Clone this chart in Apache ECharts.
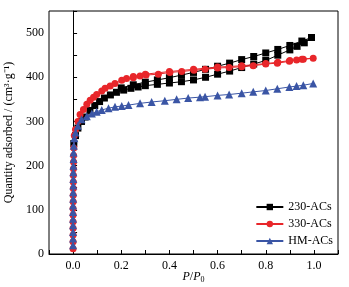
<!DOCTYPE html>
<html>
<head>
<meta charset="utf-8">
<script src="https://cdn.jsdelivr.net/npm/echarts@6/dist/echarts.min.js"></script>
<style>
  html, body { margin: 0; padding: 0; background: #fff; }
  #chart { width: 349px; height: 287px; }
</style>
</head>
<body>
<div id="chart"></div>
<script>
// relative pressure P/P0 and quantity adsorbed (cm3/g), adsorption then desorption branch
const lowP = [0, 0, 0, 0, 0, 0, 0, 0.0005, 0.0005, 0.001, 0.001, 0.001, 0.0015, 0.002, 0.002, 0.003];
const lowBlue = [20, 35, 50, 65, 80, 95, 110, 125, 140, 155, 170, 185, 200, 215, 230, 245];
const lowRed = [12, 28, 43, 58, 73, 88, 103, 118, 133, 148, 163, 178, 193, 208, 223, 240];

const p230Ads = [0.003, 0.01, 0.02, 0.035, 0.05, 0.07, 0.09, 0.11, 0.13, 0.155, 0.18, 0.21, 0.24, 0.27, 0.3, 0.35, 0.4, 0.45, 0.5, 0.55, 0.6, 0.65, 0.7, 0.75, 0.8, 0.85, 0.9, 0.93, 0.96, 0.99];
const q230Ads = [250, 268, 285, 300, 310, 325, 336, 345, 353, 360, 366, 371, 375, 378, 381, 384, 387, 390, 394, 400, 407, 414, 422, 430, 438, 450, 462, 470, 478, 490];
const p230Des = [0.95, 0.9, 0.85, 0.8, 0.75, 0.7, 0.65, 0.6, 0.55, 0.5, 0.45, 0.4, 0.35, 0.3, 0.25, 0.2];
const q230Des = [482, 472, 463, 455, 447, 440, 432, 425, 418, 411, 405, 399, 394, 389, 383, 376];

const p330Ads = [0.005, 0.01, 0.02, 0.029, 0.043, 0.057, 0.071, 0.085, 0.098, 0.119, 0.133, 0.154, 0.174, 0.202, 0.222, 0.25, 0.278, 0.303, 0.354, 0.402, 0.451, 0.502, 0.548, 0.6, 0.648, 0.7, 0.748, 0.8, 0.848, 0.898, 0.928, 0.956, 0.997];
const q330Ads = [268, 282, 300, 316, 327, 339, 348, 355, 361, 369, 375, 380, 386, 393, 397, 399, 403, 405, 407, 411, 413, 416, 418, 421, 422, 424, 426, 430, 432, 436, 439, 441, 443];
const p330Des = [0.95, 0.9, 0.85, 0.8, 0.7, 0.6, 0.5, 0.4, 0.3, 0.25];
const q330Des = [441, 438, 434, 431, 426, 423, 418, 413, 407, 402];

const pHMAds = [0.005, 0.01, 0.02, 0.035, 0.057, 0.078, 0.098, 0.119, 0.147, 0.174, 0.202, 0.23, 0.278, 0.326, 0.381, 0.43, 0.478, 0.527, 0.548, 0.6, 0.648, 0.7, 0.748, 0.8, 0.848, 0.898, 0.928, 0.956, 0.997];
const qHMAds = [262, 275, 290, 305, 312, 318, 322, 326, 330, 333, 335, 337, 341, 344, 347, 350, 353, 355, 356, 359, 361, 364, 367, 370, 374, 378, 380, 382, 386];

const names = ['230-ACs', '330-ACs', 'HM-ACs'];
const colors = ['#000000', '#e8262a', '#3a55a5'];
const symbols = ['rect', 'circle', 'triangle'];
const sizes = [7, 7, 8];

function pairs(xs, ys) {
  return xs.map((x, i) => [x, ys[i]]);
}

const seriesData = [
  pairs(p230Ads, q230Ads).concat(pairs(p230Des, q230Des)),
  pairs(lowP, lowRed).concat(pairs(p330Ads, q330Ads), pairs(p330Des, q330Des)),
  pairs(lowP, lowBlue).concat(pairs(pHMAds, qHMAds))
];

const font = 'Liberation Serif';

const chart = echarts.init(document.getElementById('chart'));
chart.setOption({
  animation: false,
  grid: {
    left: 49, right: 11, top: 11, bottom: 33,
    outerBoundsMode: 'none',
    show: true, borderColor: '#000', borderWidth: 1
  },
  legend: {
    orient: 'vertical',
    right: 11,
    bottom: 35,
    itemWidth: 27,
    itemHeight: 8,
    itemGap: 5,
    textStyle: { fontFamily: font, fontSize: 12, color: '#000' },
    data: names
  },
  xAxis: {
    type: 'value',
    min: -0.1, max: 1.1, interval: 0.1,
    name: '{i|P}/{i|P}{s|0}',
    nameLocation: 'middle',
    nameGap: 15,
    nameMoveOverlap: false,
    nameTextStyle: {
      fontFamily: font, fontSize: 12, color: '#000',
      rich: {
        i: { fontFamily: font, fontSize: 12, fontStyle: 'italic', color: '#000' },
        s: { fontFamily: font, fontSize: 8, color: '#000', padding: [7, 0, 0, 0] }
      }
    },
    axisLine: { lineStyle: { color: '#000' } },
    axisTick: { inside: true, length: 4, lineStyle: { color: '#000' } },
    axisLabel: {
      fontFamily: font, fontSize: 12, color: '#000', margin: 6,
      formatter: v => {
        const k = Math.round(v * 10);
        return (k % 2 === 0 && k >= 0 && k <= 10) ? (k / 10).toFixed(1) : '';
      }
    },
    splitLine: { show: false }
  },
  yAxis: {
    type: 'value',
    min: 0, max: 550, interval: 50,
    name: 'Quantity adsorbed / (cm³·g⁻¹)',
    nameLocation: 'middle',
    nameGap: 27,
    nameTextStyle: { fontFamily: font, fontSize: 12, color: '#000' },
    axisLine: { lineStyle: { color: '#000' } },
    axisTick: { inside: true, length: 4, lineStyle: { color: '#000' } },
    axisLabel: {
      fontFamily: font, fontSize: 12, color: '#000', margin: 5,
      formatter: v => (v % 100 === 0 && v <= 500) ? String(v) : ''
    },
    splitLine: { show: false }
  },
  series: names.map((n, i) => ({
    name: n,
    type: 'line',
    data: seriesData[i],
    symbol: symbols[i],
    symbolSize: sizes[i],
    showAllSymbol: true,
    color: colors[i],
    lineStyle: { width: 1, color: colors[i] },
    itemStyle: { color: colors[i] },
    z: 2 + i
  }))
});

window.addEventListener('resize', () => chart.resize());
</script>
</body>
</html>
